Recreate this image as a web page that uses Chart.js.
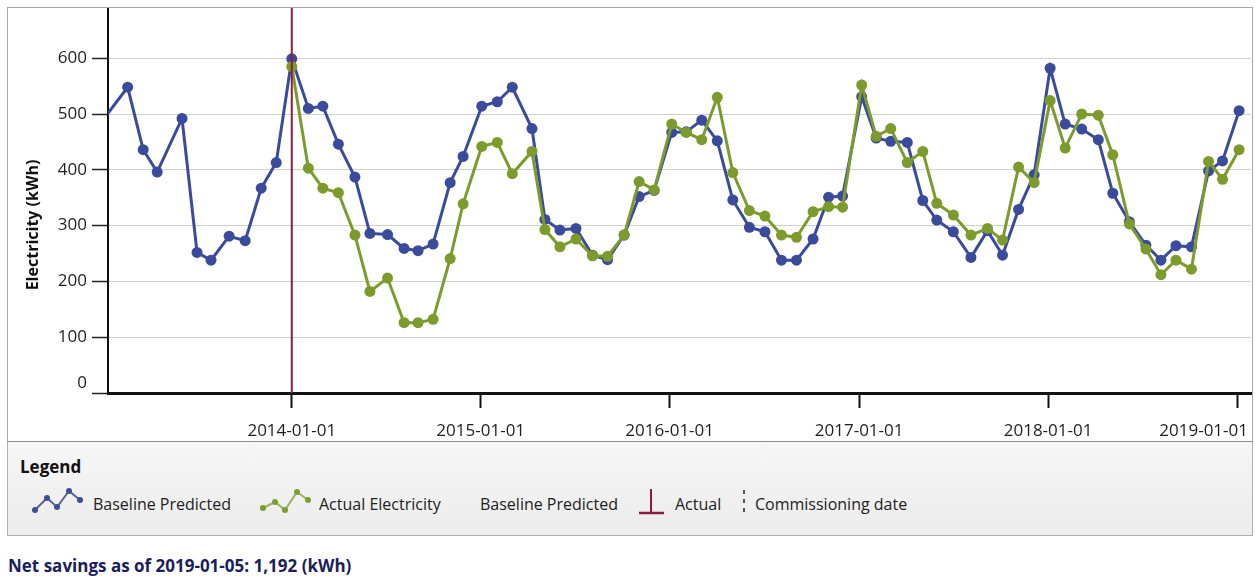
<!DOCTYPE html>
<html><head><meta charset="utf-8">
<script src="https://cdn.jsdelivr.net/npm/chart.js@4.4.1/dist/chart.umd.min.js"></script>
<style>
html,body{margin:0;padding:0;background:#fff;width:1255px;height:588px;overflow:hidden;font-family:"Open Sans",sans-serif;color:#222;}
#frame{position:absolute;left:7px;top:7px;width:1244px;height:433px;border:1px solid #a6a6a6;border-bottom:1px solid #8c8c8c;background:#fff;}
#frame canvas{position:absolute;left:0;top:0;}
#legend{position:absolute;left:7px;top:442px;width:1244px;height:93px;border:1px solid #b0b0b0;border-top:none;background:linear-gradient(#f6f6f6,#ececec);}
.lg{position:absolute;white-space:nowrap;line-height:20px;}
#ltitle{left:12px;top:15px;font-weight:bold;font-size:17px;color:#111;}
.it{top:52px;font-size:16px;color:#222;}
.ic{position:absolute;}
#net{position:absolute;left:8px;top:555px;font-weight:bold;font-size:17px;line-height:22px;color:#1b1e5c;white-space:nowrap;}
</style></head>
<body>
<div id="frame"><canvas id="c" width="1244" height="433"></canvas></div>
<div id="legend">
  <div class="lg" id="ltitle">Legend</div>
  <svg class="ic" style="left:22px;top:44px" width="56" height="30" viewBox="0 0 56 30">
    <polyline points="5,24 17,12 27,21 39,5 50,14" fill="none" stroke="#5d6688" stroke-width="2"/>
    <g fill="#3d4d99"><circle cx="5" cy="24" r="3"/><circle cx="17" cy="12" r="3"/><circle cx="27" cy="21" r="3"/><circle cx="39" cy="5" r="3"/><circle cx="50" cy="14" r="3"/></g>
  </svg>
  <div class="lg it" style="left:85px">Baseline Predicted</div>
  <svg class="ic" style="left:250px;top:44px" width="56" height="30" viewBox="0 0 56 30">
    <polyline points="5,22 17,16 27,24 39,6 50,14" fill="none" stroke="#9bb06a" stroke-width="2"/>
    <g fill="#7d9c2e"><circle cx="5" cy="22" r="3"/><circle cx="17" cy="16" r="3"/><circle cx="27" cy="24" r="3"/><circle cx="39" cy="6" r="3"/><circle cx="50" cy="14" r="3"/></g>
  </svg>
  <div class="lg it" style="left:311px">Actual Electricity</div>
  <div class="lg it" style="left:472px">Baseline Predicted</div>
  <svg class="ic" style="left:628px;top:44px" width="32" height="32" viewBox="0 0 32 32">
    <line x1="15" y1="3" x2="15" y2="27" stroke="#8b1e3f" stroke-width="2"/>
    <line x1="3" y1="27" x2="28" y2="27" stroke="#8b1e3f" stroke-width="2.5"/>
  </svg>
  <div class="lg it" style="left:667px">Actual</div>
  <svg class="ic" style="left:732px;top:46px" width="8" height="30" viewBox="0 0 8 30">
    <line x1="4" y1="2" x2="4" y2="28" stroke="#555" stroke-width="2" stroke-dasharray="4,5"/>
  </svg>
  <div class="lg it" style="left:747px">Commissioning date</div>
</div>
<div id="net">Net savings as of 2019-01-05: 1,192 (kWh)</div>
<script>
// ---- data ----
const preDates = ['2012-12-27','2013-02-18','2013-03-20','2013-04-16','2013-06-03','2013-07-02','2013-07-29','2013-09-02','2013-10-03','2013-11-03','2013-12-02'];
const preBaseline = [483,548,436,396,492,252,238,281,273,367,413];
const dates = [
 '2014-01-01','2014-02-02','2014-03-02','2014-04-01','2014-05-03','2014-06-01','2014-07-05','2014-08-06','2014-09-02','2014-10-01','2014-11-03','2014-11-28',
 '2015-01-03','2015-02-02','2015-03-03','2015-04-10','2015-05-05','2015-06-03','2015-07-04','2015-08-05','2015-09-03','2015-10-05','2015-11-03','2015-12-02',
 '2016-01-05','2016-02-02','2016-03-03','2016-04-02','2016-05-02','2016-06-03','2016-07-03','2016-08-04','2016-09-02','2016-10-04','2016-11-03','2016-11-30',
 '2017-01-06','2017-02-03','2017-03-03','2017-04-04','2017-05-04','2017-05-31','2017-07-02','2017-08-05','2017-09-06','2017-10-05','2017-11-05','2017-12-05',
 '2018-01-05','2018-02-03','2018-03-07','2018-04-08','2018-05-06','2018-06-07','2018-07-09','2018-08-07','2018-09-05','2018-10-05','2018-11-07','2018-12-04',
 '2019-01-05'];
const baseline = [
 599,510,514,446,387,286,284,259,255,267,377,424,
 514,522,548,474,311,292,295,247,239,283,352,363,
 467,468,489,452,346,297,289,238,238,276,351,353,
 531,457,451,449,345,310,289,243,291,247,329,391,
 582,482,473,454,358,307,265,238,264,262,398,416,
 506];
const actual = [
 585,403,367,359,283,182,206,126,126,132,241,339,
 442,449,393,433,293,262,276,246,245,283,379,364,
 482,467,454,530,395,327,317,283,279,325,334,333,
 552,460,474,413,433,340,319,283,295,274,405,377,
 524,439,500,498,427,303,258,212,238,222,415,383,
 436];
const xTickLabels = ['2014-01-01','2015-01-01','2016-01-01','2017-01-01','2018-01-01','2019-01-01'];
const yTickValues = [0,100,200,300,400,500,600];
const commissioningDate = '2014-01-01';
const xMinDate = '2013-01-11', xMaxDate = '2019-01-28';
const yMin = 0, yMax = 690;
const yTitle = 'Electricity (kWh)';

// ---- helpers ----
const toDay = s => { const [a,b,c] = s.split('-').map(Number); return Date.UTC(a,b-1,c)/864e5; };
const BLUE = '#3b4b9b', GREEN = '#7c9b2c', RED = '#8b1e3f';
const FONT = '"Open Sans", sans-serif';

const overlay = {
  id: 'overlay',
  afterDatasetsDraw(chart) {
    const {ctx, chartArea: a, scales: {x}} = chart;
    const cx = x.getPixelForValue(toDay(commissioningDate));
    ctx.save();
    ctx.strokeStyle = RED; ctx.lineWidth = 2;
    ctx.beginPath(); ctx.moveTo(cx, a.top); ctx.lineTo(cx, a.bottom); ctx.stroke();
    ctx.restore();
  },
  afterDraw(chart) {
    const {ctx, scales: {x}} = chart;
    ctx.save();
    ctx.font = '17px ' + FONT; ctx.fillStyle = '#1e1e1e'; ctx.textBaseline = 'middle'; ctx.textAlign = 'left';
    xTickLabels.forEach(l => {
      const px = x.getPixelForValue(toDay(l));
      const w = ctx.measureText(l).width;
      const left = Math.min(px - w / 2, chart.width - 4 - w);
      ctx.fillText(l, left, 423);
    });
    ctx.translate(25, 217); ctx.rotate(-Math.PI / 2);
    ctx.font = 'bold 16px ' + FONT; ctx.textAlign = 'center'; ctx.fillStyle = '#111';
    ctx.fillText(yTitle, 0, 0);
    ctx.restore();
  }
};

new Chart(document.getElementById('c'), {
  type: 'line',
  data: {
    datasets: [
      { label: 'Actual Electricity', data: dates.map((d, i) => ({x: toDay(d), y: actual[i]})),
        borderColor: GREEN, backgroundColor: GREEN, borderWidth: 3, pointRadius: 5.5, pointBorderWidth: 0,
        pointHoverRadius: 5.5, tension: 0, clip: 0, order: 1 },
      { label: 'Baseline Predicted', data: preDates.concat(dates).map((d, i) => ({x: toDay(d), y: preBaseline.concat(baseline)[i]})),
        borderColor: BLUE, backgroundColor: BLUE, borderWidth: 3, pointRadius: 5.5, pointBorderWidth: 0,
        pointHoverRadius: 5.5, tension: 0, clip: 0, order: 2 }
    ]
  },
  options: {
    responsive: false, animation: false, events: [],
    layout: { autoPadding: false, padding: { left: 0, right: 1, top: 0, bottom: 0 } },
    plugins: { legend: { display: false }, tooltip: { enabled: false } },
    scales: {
      x: {
        type: 'linear', min: toDay(xMinDate), max: toDay(xMaxDate),
        afterBuildTicks: s => { s.ticks = xTickLabels.map(l => ({value: toDay(l)})); },
        afterFit: s => { s.height = 48; s.paddingLeft = 0; s.paddingRight = 0; },
        ticks: { display: false },
        grid: { display: true, drawOnChartArea: false, drawTicks: true, tickLength: 15, tickColor: '#111', tickWidth: 2 },
        border: { display: true, color: '#111', width: 3 }
      },
      y: {
        type: 'linear', min: yMin, max: yMax,
        afterBuildTicks: s => { s.ticks = yTickValues.map(v => ({value: v})); },
        afterFit: s => { s.width = 100; s.paddingTop = 0; s.paddingBottom = 0; },
        ticks: { color: '#1e1e1e', font: { family: FONT, size: 17 }, padding: 5,
                 callback: v => v === 0 ? ['0', ''] : String(v) },
        grid: { color: '#cfcfcf', lineWidth: 1, drawTicks: true, tickLength: 16, tickColor: '#222', tickWidth: 1.5 },
        border: { display: true, color: '#111', width: 2 }
      }
    }
  },
  plugins: [overlay]
});
</script>
</body></html>
